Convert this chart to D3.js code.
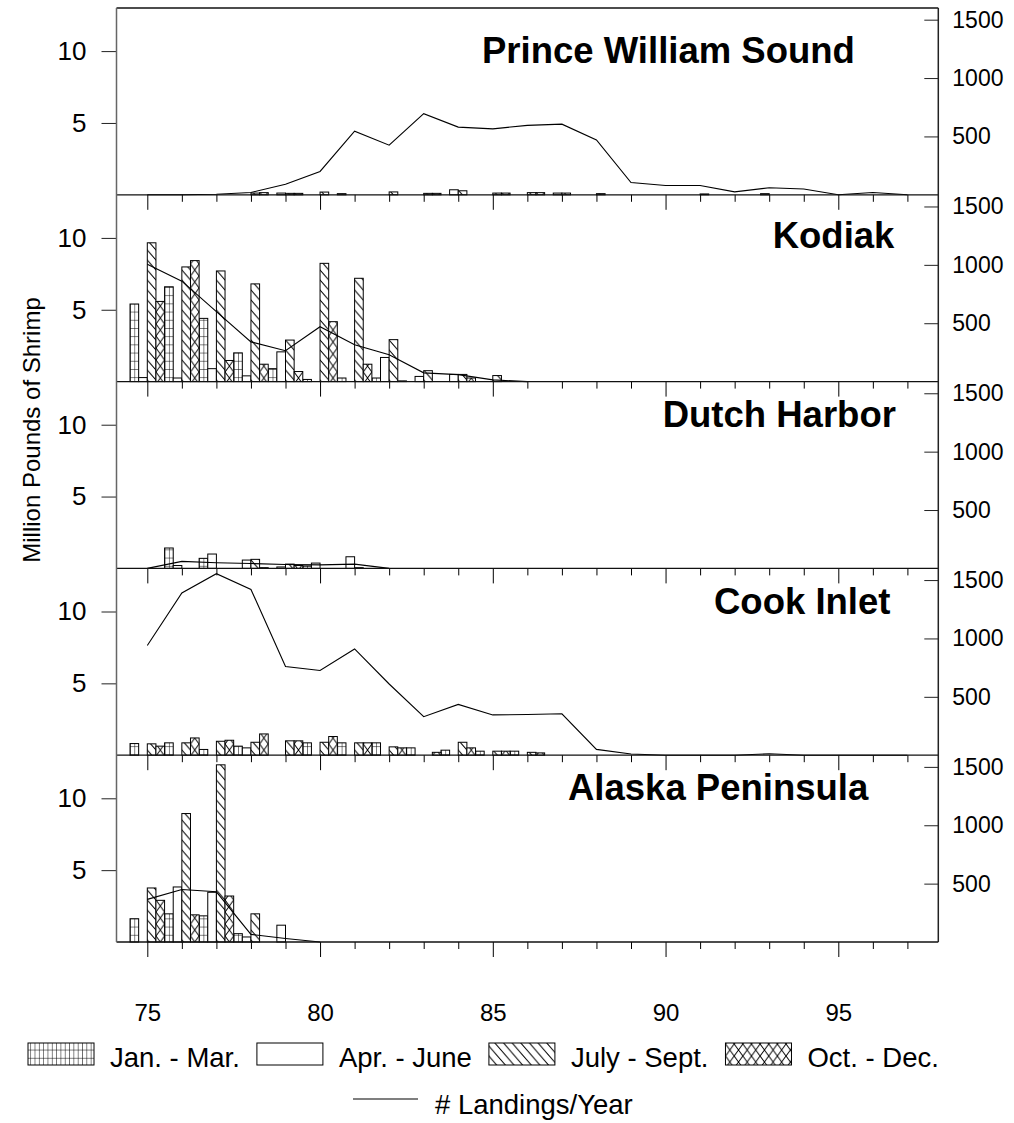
<!DOCTYPE html>
<html>
<head>
<meta charset="utf-8">
<script src="https://cdn.jsdelivr.net/npm/d3@7"></script>
<style>
  html, body { margin: 0; padding: 0; background: #fff; }
  svg { display: block; }
  text { font-family: "Liberation Sans", Arial, Helvetica, sans-serif; fill: #000; }
</style>
</head>
<body>
<svg id="chart" width="1014" height="1123"></svg>
<script>
// ---------------- DATA ----------------
const regionNames = ["Prince William Sound", "Kodiak", "Dutch Harbor", "Cook Inlet", "Alaska Peninsula"];
const quarterLabels = ["Jan. - Mar.", "Apr. - June", "July - Sept.", "Oct. - Dec."];
const lineLabel = "# Landings/Year";
const yTitle = "Million Pounds of Shrimp";
const xTickValues = [75, 80, 85, 90, 95];
const leftTickValues = [5, 10];
const rightTickValues = [500, 1000, 1500];

// landings per year (right axis), years starting at 75
const landingYears = [75,76,77,78,79,80,81,82,83,84,85,86,87,88,89,90,91,92,93,94,95,96,97];
const pwsLandings    = [0,0,5,20,90,200,545,425,695,580,565,595,605,470,105,80,80,25,60,50,0,20,0];
const kodiakLandings = [1005,860,600,340,265,470,315,230,75,60,15,0];
const dutchLandings  = [0,60,48,42,33,30,37,0];
const cookLandings   = [940,1390,1555,1420,760,725,910,610,330,435,345,348,355,50,10,0,0,0,12,0,0,0,0];
const akpenLandings  = [365,450,430,65,30,0];

// quarterly catch, million lbs (left axis), years starting at 75
const pwsQ1 = [0,0,0,0,0,0,0.08,0,0,0,0,0,0,0,0,0,0,0,0];
const pwsQ2 = [0,0,0,0,0.12,0,0,0,0,0.35,0,0,0.12,0,0,0,0,0,0.08];
const pwsQ3 = [0,0,0,0.12,0.1,0.19,0,0.2,0.1,0.28,0.12,0.15,0.12,0.08,0,0,0.06,0,0];
const pwsQ4 = [0,0,0,0.15,0.1,0,0,0,0.1,0,0.12,0.15,0,0,0,0,0,0,0];

const kodiakQ1 = [5.4,6.6,4.4,2.0,0.9,0.15,0.25,0.25,0,0,0];
const kodiakQ2 = [0.28,0.25,0.9,0.4,2.07,0,0,1.68,0.36,0.5,0];
const kodiakQ3 = [9.66,7.98,7.7,6.8,2.89,8.23,7.19,2.92,0.76,0.5,0.42];
const kodiakQ4 = [5.58,8.42,1.47,1.21,0.7,4.17,1.21,0.05,0,0.25,0];

const dutchQ1 = [0,1.42,0.7,0,0,0.17,0];
const dutchQ2 = [0,0.2,1.0,0.58,0.1,0.37,0.81];
const dutchQ3 = [0,0,0,0.63,0.3,0,0.05];
const dutchQ4 = [0,0,0,0.05,0.2,0,0];

const cookQ1 = [0.81,0.86,0.4,0.63,0,0.86,0.86,0.86,0.51,0.35,0.28,0.28];
const cookQ2 = [0,0,0,0.51,0,0,0,0,0,0,0,0];
const cookQ3 = [0.79,0.86,0.97,0.9,1.0,0.9,0.86,0.58,0,0.9,0.28,0.2];
const cookQ4 = [0.63,1.2,1.04,1.48,1.0,1.3,0.86,0.51,0.2,0.51,0.28,0.16];

const akpenQ1 = [1.62,1.96,1.82,0.58,0];
const akpenQ2 = [0,3.83,3.46,0.35,1.17];
const akpenQ3 = [3.76,8.94,12.33,1.96,0];
const akpenQ4 = [2.9,1.89,3.2,0,0];

const firstYear = 75;

// ---------------- LAYOUT ----------------
const plotLeft = 116.5, plotRight = 938.3;
const panelTop0 = 8, panelH = 186.8;
const titlePos = [
  { x: 482,   y: 63 },
  { x: 772.7, y: 248 },
  { x: 662.7, y: 427 },
  { x: 714,   y: 614 },
  { x: 568,   y: 800 }
];

const regions = [
  { landings: pwsLandings,    q: [pwsQ1, pwsQ2, pwsQ3, pwsQ4] },
  { landings: kodiakLandings, q: [kodiakQ1, kodiakQ2, kodiakQ3, kodiakQ4] },
  { landings: dutchLandings,  q: [dutchQ1, dutchQ2, dutchQ3, dutchQ4] },
  { landings: cookLandings,   q: [cookQ1, cookQ2, cookQ3, cookQ4] },
  { landings: akpenLandings,  q: [akpenQ1, akpenQ2, akpenQ3, akpenQ4] }
].map((r, i) => Object.assign(r, { name: regionNames[i] }));

const svg = d3.select("#chart");
const x = d3.scaleLinear().domain([75, 95]).range([147.3, 838.3]);
const qw = x(75.25) - x(75);

// ---------------- PATTERNS ----------------
const defs = svg.append("defs");
function makePatterns(prefix, ox) {
  const g = defs.append("pattern").attr("id", prefix + "grid")
    .attr("patternUnits", "userSpaceOnUse").attr("x", ox).attr("y", 0)
    .attr("width", qw / 2).attr("height", 8.2);
  g.append("rect").attr("width", qw / 2).attr("height", 8.2).attr("fill", "#fff");
  g.append("line").attr("x1", 0).attr("y1", 0).attr("x2", 0).attr("y2", 8.2).attr("stroke", "#000").attr("stroke-width", 1);
  g.append("line").attr("x1", 0).attr("y1", 0).attr("x2", qw / 2).attr("y2", 0).attr("stroke", "#000").attr("stroke-width", 1);

  const hh = 10;
  const h = defs.append("pattern").attr("id", prefix + "hatch")
    .attr("patternUnits", "userSpaceOnUse").attr("x", ox).attr("y", 0)
    .attr("width", qw).attr("height", hh);
  h.append("rect").attr("width", qw).attr("height", hh).attr("fill", "#fff");
  h.append("path").attr("d", `M${-qw},${-hh}L${2*qw},${2*hh}M${-qw},0L${qw},${2*hh}M0,${-hh}L${2*qw},${hh}`)
    .attr("stroke", "#000").attr("stroke-width", 1);

  const ch = 12;
  const c = defs.append("pattern").attr("id", prefix + "cross")
    .attr("patternUnits", "userSpaceOnUse").attr("x", ox).attr("y", 0)
    .attr("width", qw).attr("height", ch);
  c.append("rect").attr("width", qw).attr("height", ch).attr("fill", "#fff");
  c.append("path").attr("d", `M0,0L${qw},${ch}M${qw},0L0,${ch}`)
    .attr("stroke", "#000").attr("stroke-width", 1);
}
makePatterns("p-", x(75));
makePatterns("l-", 0);
const fills = ["url(#p-grid)", "#fff", "url(#p-hatch)", "url(#p-cross)"];
const legendFills = ["url(#l-grid)", "#fff", "url(#l-hatch)", "url(#l-cross)"];

// ---------------- PANELS ----------------
regions.forEach((r, i) => {
  const top = panelTop0 + i * panelH;
  const bottom = top + panelH;
  const yL = d3.scaleLinear().domain([0, 13]).range([bottom, top]);
  const yR = d3.scaleLinear().domain([0, 1600]).range([bottom, top]);
  const g = svg.append("g").attr("class", "panel");

  // bars
  const barData = [];
  r.q.forEach((arr, qi) => {
    arr.forEach((v, k) => {
      if (v > 0) barData.push({ year: firstYear + k, q: qi, v });
    });
  });
  g.selectAll("rect.bar").data(barData).enter().append("rect")
    .attr("class", "bar")
    .attr("x", d => x(d.year - 0.5 + d.q * 0.25))
    .attr("width", qw)
    .attr("y", d => yL(d.v))
    .attr("height", d => yL(0) - yL(d.v))
    .attr("fill", d => fills[d.q])
    .attr("stroke", "#000").attr("stroke-width", 1);

  // landings line
  const lineData = r.landings.map((v, k) => ({ year: landingYears[k], v }));
  g.append("path").datum(lineData)
    .attr("fill", "none").attr("stroke", "#000").attr("stroke-width", 1.1)
    .attr("d", d3.line().x(d => x(d.year)).y(d => yR(d.v)));

  // left axis
  const la = g.append("g").attr("transform", `translate(${plotLeft},0)`)
    .call(d3.axisLeft(yL).tickValues(leftTickValues).tickSize(15).tickPadding(15).tickFormat(d3.format("d")));
  la.select(".domain").remove();
  la.selectAll("text").style("font-size", "26px");
  la.selectAll("line").attr("stroke", "#222");

  // right axis (ticks inward)
  const ra = g.append("g").attr("transform", `translate(${plotRight},0)`)
    .call(d3.axisRight(yR).tickValues(rightTickValues).tickSize(-14).tickPadding(14).tickFormat(d3.format("d")));
  ra.select(".domain").remove();
  ra.selectAll("text").style("font-size", "23px");
  ra.selectAll("line").attr("stroke", "#222");

  // bottom axes: minor and major ticks
  const minorTicks = landingYears.filter(v => xTickValues.indexOf(v) < 0);
  const bmin = g.append("g").attr("transform", `translate(0,${bottom})`)
    .call(d3.axisBottom(x).tickValues(minorTicks).tickSize(7).tickFormat(""));
  bmin.select(".domain").remove();
  const bmaj = g.append("g").attr("transform", `translate(0,${bottom})`)
    .call(d3.axisBottom(x).tickValues(xTickValues).tickSize(15).tickPadding(47)
      .tickFormat(i === regions.length - 1 ? d3.format("d") : ""));
  bmaj.select(".domain").remove();
  bmaj.selectAll("text").style("font-size", "24px");

  // panel bottom line
  g.append("line").attr("x1", plotLeft).attr("x2", plotRight).attr("y1", bottom).attr("y2", bottom)
    .attr("stroke", "#111").attr("stroke-width", 1.3);

  // title
  g.append("text").attr("x", titlePos[i].x).attr("y", titlePos[i].y)
    .style("font-size", "36.5px").style("font-weight", "bold").text(r.name);
});

// frame
const frameBottom = panelTop0 + panelH * regions.length;
svg.append("line").attr("x1", plotLeft).attr("x2", plotRight).attr("y1", panelTop0).attr("y2", panelTop0)
  .attr("stroke", "#111").attr("stroke-width", 1.3);
svg.append("line").attr("x1", plotLeft).attr("x2", plotLeft).attr("y1", panelTop0).attr("y2", frameBottom)
  .attr("stroke", "#666").attr("stroke-width", 1.5);
svg.append("line").attr("x1", plotRight).attr("x2", plotRight).attr("y1", panelTop0).attr("y2", frameBottom)
  .attr("stroke", "#222").attr("stroke-width", 1.5);

// y title
svg.append("text").attr("transform", "translate(40,430) rotate(-90)")
  .attr("text-anchor", "middle").style("font-size", "24px").text(yTitle);

// ---------------- LEGEND ----------------
const leg = svg.append("g");
const swW = 66, swH = 22, swY = 1043, legBase = 1067, legFont = 27.5;
let cx = 28;
quarterLabels.forEach((lab, qi) => {
  leg.append("rect").attr("x", cx).attr("y", swY).attr("width", swW).attr("height", swH)
    .attr("fill", legendFills[qi]).attr("stroke", "#000").attr("stroke-width", 1);
  const t = leg.append("text").attr("x", cx + swW + 16).attr("y", legBase)
    .style("font-size", legFont + "px").text(lab);
  cx = cx + swW + 16 + t.node().getComputedTextLength() + 17;
});
leg.append("line").attr("x1", 353).attr("x2", 418).attr("y1", 1099).attr("y2", 1099)
  .attr("stroke", "#000").attr("stroke-width", 1.1);
leg.append("text").attr("x", 435).attr("y", 1114).style("font-size", legFont + "px").text(lineLabel);
</script>
</body>
</html>
